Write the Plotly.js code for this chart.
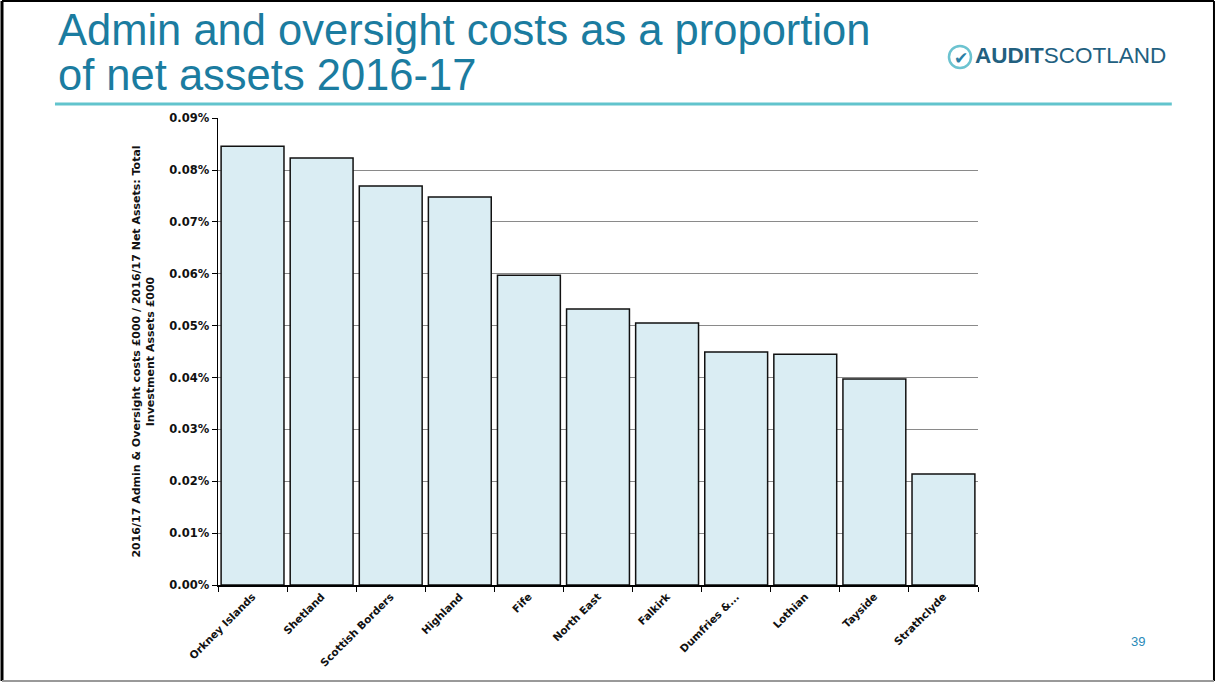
<!DOCTYPE html>
<html>
<head>
<meta charset="utf-8">
<script src="https://cdn.plot.ly/plotly-3.0.1.min.js"></script>
<style>
html,body{margin:0;padding:0;background:#fff;}
#chart{width:1218px;height:683px;}
</style>
</head>
<body>
<div id="chart"></div>
<script>
const categories = ["Orkney Islands","Shetland","Scottish Borders","Highland","Fife","North East","Falkirk","Dumfries &...","Lothian","Tayside","Strathclyde"];
const costPct = [0.0846,0.0823,0.0769,0.0748,0.0597,0.0532,0.0505,0.0449,0.0445,0.0397,0.0214];
const yTicks = [0,0.01,0.02,0.03,0.04,0.05,0.06,0.07,0.08,0.09];
const yTickLabels = yTicks.map(v => v.toFixed(2) + "%");

const trace = {
  type: "bar",
  x: categories,
  y: costPct,
  marker: {color: "#daedf3", line: {color: "#111", width: 1.5}},
  hoverinfo: "x+y"
};

const teal = "#1b7ca0";
const layout = {
  width: 1218, height: 683,
  paper_bgcolor: "#fff", plot_bgcolor: "#fff",
  margin: {l: 218, r: 240, t: 118, b: 98},
  showlegend: false,
  bargap: 0.09,
  font: {family: "Liberation Sans, Arial, sans-serif", color: "#000"},
  xaxis: {
    type: "category",
    tickangle: -45,
    tickfont: {size: 10.5, family: "DejaVu Sans", weight: "bold", color: "#111"},
    ticks: "outside", ticklen: 5, tickson: "boundaries", tickcolor: "#000",
    showline: true, linecolor: "#000", linewidth: 1.5,
    showgrid: false
  },
  yaxis: {
    range: [0, 0.09003],
    tickvals: yTicks, ticktext: yTickLabels,
    tickfont: {size: 11.5, family: "DejaVu Sans", weight: "bold", color: "#111"},
    ticks: "outside", ticklen: 5, tickcolor: "#000",
    showline: true, linecolor: "#000", linewidth: 1.5,
    showgrid: true, gridcolor: "#8a8a8a", gridwidth: 1,
    zeroline: false,
    title: {
      text: "<b>2016/17 Admin & Oversight costs £000 / 2016/17 Net Assets: Total<br>Investment Assets £000</b>",
      font: {size: 11, family: "DejaVu Sans", color: "#111"},
      standoff: 12
    }
  },
  annotations: [
    {xref: "paper", yref: "paper", x: -0.2132, y: 1.1885, xanchor: "left", yanchor: "middle",
     text: "Admin and oversight costs as a proportion",
     showarrow: false, font: {size: 43.5, color: teal, family: "Liberation Sans, Arial"}},
    {xref: "paper", yref: "paper", x: -0.2132, y: 1.0921, xanchor: "left", yanchor: "middle",
     text: "of net assets 2016-17",
     showarrow: false, font: {size: 43.5, color: teal, family: "Liberation Sans, Arial"}},
    {xref: "paper", yref: "paper", x: 0.978, y: 1.128, xanchor: "center", yanchor: "middle",
     text: "✔", showarrow: false,
     font: {size: 17, color: "#2a7fa6", family: "DejaVu Sans"}},
    {xref: "paper", yref: "paper", x: 0.994, y: 1.1328, xanchor: "left", yanchor: "middle",
     text: "<b>AUDIT</b>SCOTLAND", showarrow: false,
     font: {size: 22.5, color: "#22607f", family: "Liberation Sans, Arial"}},
    {xref: "paper", yref: "paper", x: 1.2105, y: -0.12, xanchor: "center", yanchor: "middle",
     text: "39", showarrow: false, font: {size: 13, color: "#2a8ab8", family: "Liberation Sans, Arial"}}
  ],
  shapes: [
    {type: "circle", xref: "paper", yref: "paper", x0: 0.9618, x1: 0.9908, y0: 1.1071, y1: 1.1542,
     line: {color: "#6cc3d0", width: 2.5}},
    {type: "line", xref: "paper", yref: "paper", x0: -0.2145, x1: 1.255, y0: 1.03, y1: 1.03,
     line: {color: "#62c4cd", width: 3}},
    {type: "line", xref: "paper", yref: "paper", x0: -0.2842, x1: 1.3105, y0: 1.2505, y1: 1.2505,
     line: {color: "#000", width: 2}},
    {type: "line", xref: "paper", yref: "paper", x0: -0.2842, x1: -0.2842, y0: -0.2056, y1: 1.2505,
     line: {color: "#000", width: 3}},
    {type: "line", xref: "paper", yref: "paper", x0: 1.3105, x1: 1.3105, y0: -0.2056, y1: 1.2505,
     line: {color: "#000", width: 2}},
    {type: "line", xref: "paper", yref: "paper", x0: -0.2842, x1: 1.3105, y0: -0.2056, y1: -0.2056,
     line: {color: "#999", width: 2}}
  ]
};

Plotly.newPlot("chart", [trace], layout, {displayModeBar: false, staticPlot: true});
</script>
</body>
</html>
